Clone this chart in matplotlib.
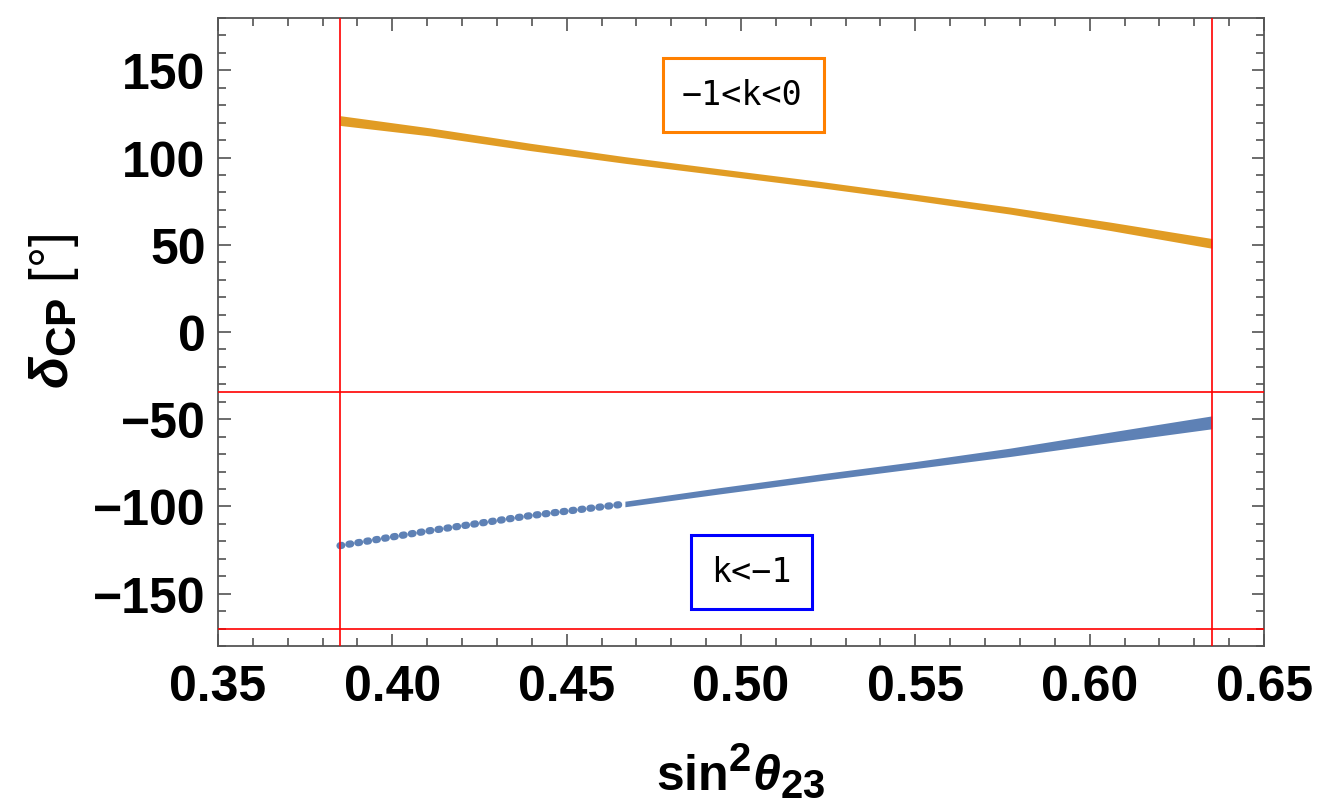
import matplotlib
matplotlib.use("Agg")
import matplotlib.pyplot as plt
from matplotlib.patches import Rectangle
from matplotlib.ticker import MultipleLocator

try:
    import matplotlib._mathtext as _mt
    _mt.SHRINK_FACTOR = 0.8
except Exception:
    pass

# ---- data ----
orange_x = [0.385, 0.4108, 0.4395, 0.4667, 0.4940, 0.5227, 0.5499, 0.5771, 0.6058, 0.635]
orange_y = [121.2, 114.7, 106.1, 98.6, 91.7, 84.5, 77.2, 69.6, 60.6, 50.8]
orange_hw = [2.8, 2.3, 2.1, 1.9, 1.8, 1.8, 1.8, 2.0, 2.4, 2.8]

blue_x = [0.385, 0.4108, 0.4395, 0.4667, 0.4940, 0.5227, 0.5499, 0.5771, 0.6058, 0.635]
blue_y = [-122.5, -113.9, -105.3, -98.6, -91.0, -83.3, -76.3, -69.0, -60.4, -51.8]
blue_hw = [1.6, 1.6, 1.6, 1.6, 1.8, 1.9, 2.0, 2.4, 3.0, 3.7]
blue_sparse_end = 3   # left part of the blue band is sparse dots

vlines = [0.385, 0.635]
hlines = [-34.5, -170.3]

label_top = "−1<k<0"
label_bot = "k<−1"
xlabel = r"$\mathbf{sin}^{\mathbf{2}}\theta_{\mathbf{23}}$"
ylabel = r"$\delta_{\mathbf{CP}}$ [°]"

c_orange = "#E19C24"
c_blue = "#5E81B5"

plt.rcParams["font.family"] = ["Liberation Sans", "DejaVu Sans"]
plt.rcParams["font.weight"] = "bold"
plt.rcParams["mathtext.fontset"] = "custom"
plt.rcParams["mathtext.rm"] = "Liberation Sans:bold"
plt.rcParams["mathtext.bf"] = "Liberation Sans:bold"
plt.rcParams["mathtext.it"] = "Liberation Sans:italic:bold"

fig = plt.figure(figsize=(13.21, 8.04), dpi=100)
ax = fig.add_axes([0.165, 0.1953, 0.7919, 0.7811])

ax.set_xlim(0.35, 0.65)
ax.set_ylim(-180, 180)

# bands
lo = [y - h for y, h in zip(orange_y, orange_hw)]
hi = [y + h for y, h in zip(orange_y, orange_hw)]
ax.fill_between(orange_x, lo, hi, color=c_orange, lw=0, zorder=3)

bx = blue_x[blue_sparse_end:]
blo = [y - h for y, h in zip(blue_y[blue_sparse_end:], blue_hw[blue_sparse_end:])]
bhi = [y + h for y, h in zip(blue_y[blue_sparse_end:], blue_hw[blue_sparse_end:])]
ax.fill_between(bx, blo, bhi, color=c_blue, lw=0, zorder=3)
ax.plot(blue_x[:blue_sparse_end + 1], blue_y[:blue_sparse_end + 1], color=c_blue,
        lw=5.2, linestyle=(0, (0.25, 1.0)), dash_capstyle="round", zorder=3)

for v in vlines:
    ax.axvline(v, color="#FF0000", lw=1.2, zorder=4)
for h in hlines:
    ax.axhline(h, color="#FF0000", lw=1.2, zorder=4)

# label boxes
ax.add_patch(Rectangle((0.4776, 114.9), 0.0463, 42.4, fill=False,
                       edgecolor="#FF8000", lw=2.2, zorder=5))
ax.text(0.5004, 136.0, label_top, family="DejaVu Sans Mono", fontweight="normal",
        fontsize=24, ha="center", va="center", zorder=6)
ax.add_patch(Rectangle((0.4856, -158.6), 0.0347, 42.4, fill=False,
                       edgecolor="#0000FF", lw=2.2, zorder=5))
ax.text(0.5030, -137.5, label_bot, family="DejaVu Sans Mono", fontweight="normal",
        fontsize=24, ha="center", va="center", zorder=6)

# frame and ticks
for s in ax.spines.values():
    s.set_color("#555555")
    s.set_linewidth(1.3)
ax.xaxis.set_major_locator(MultipleLocator(0.05))
ax.xaxis.set_minor_locator(MultipleLocator(0.01))
ax.yaxis.set_major_locator(MultipleLocator(50))
ax.yaxis.set_minor_locator(MultipleLocator(10))
ax.tick_params(which="both", direction="in", top=True, right=True, color="#444444", width=1.1)
ax.tick_params(which="major", length=9)
ax.tick_params(which="minor", length=5.5)
ax.tick_params(axis="x", which="major", pad=13, labelsize=36)
ax.tick_params(axis="y", which="major", pad=9, labelsize=36)
ax.set_xticks([0.35, 0.40, 0.45, 0.50, 0.55, 0.60, 0.65])
ax.set_xticklabels(["0.35", "0.40", "0.45", "0.50", "0.55", "0.60", "0.65"])
for t in ax.get_xticklabels() + ax.get_yticklabels():
    t.set_fontweight("bold")

ax.set_xlabel(xlabel, fontsize=36, labelpad=22)
ax.set_ylabel(ylabel, fontsize=38, labelpad=17)
ax.yaxis.set_label_coords(-0.1305, 0.535)

fig.savefig("out.png", dpi=100)
